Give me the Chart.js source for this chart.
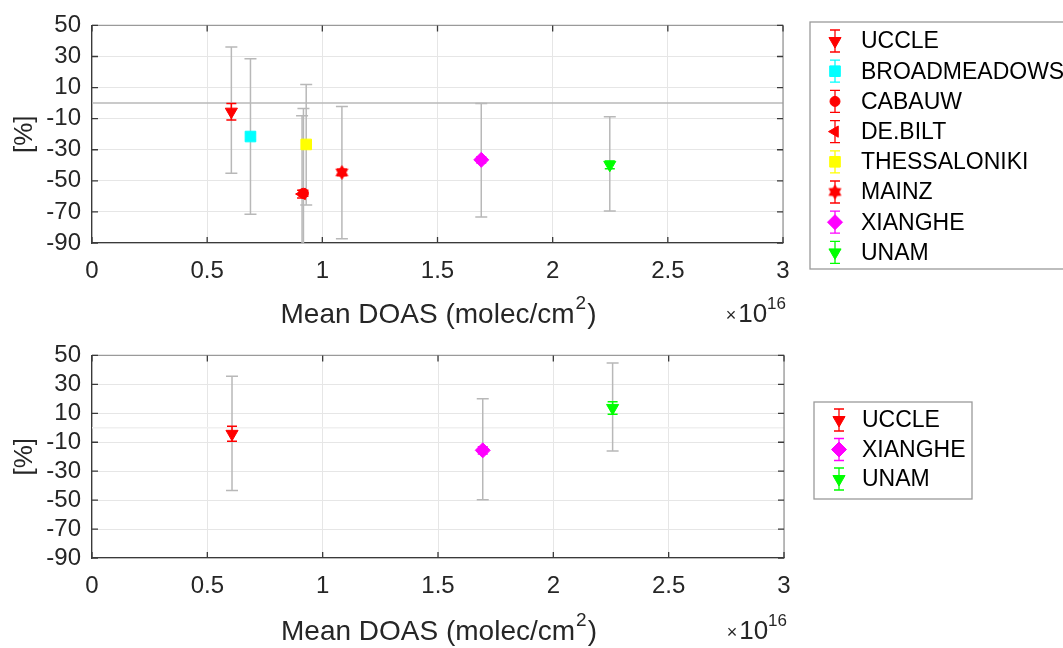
<!DOCTYPE html>
<html>
<head>
<meta charset="utf-8">
<script src="https://cdn.jsdelivr.net/npm/chart.js@4.4.0/dist/chart.umd.min.js"></script>
<style>
  html, body { margin: 0; padding: 0; background: #fff; }
  #wrap { position: relative; width: 1063px; height: 648px; overflow: hidden; background: #fff; }
  canvas { position: absolute; left: 0; }
</style>
</head>
<body>
<div id="wrap">
  <canvas id="topChart" width="1063" height="330" style="top:0"></canvas>
  <canvas id="bottomChart" width="1063" height="318" style="top:330px"></canvas>
</div>
<script>
// x: mean DOAS column in units of 1e16 molec/cm2, y: relative difference in %
const stationsTop = ['UCCLE', 'BROADMEADOWS', 'CABAUW', 'DE.BILT', 'THESSALONIKI', 'MAINZ', 'XIANGHE', 'UNAM'];
const meanTop     = [0.605, 0.688, 0.918, 0.912, 0.930, 1.085, 1.690, 2.248];
const biasTop     = [-5.5, -21.5, -58.0, -58.5, -26.6, -44.6, -36.5, -39.7];
const sdLowTop    = [-45.2, -71.5, -100, -110, -65.6, -87.3, -73.2, -69.4];
const sdHighTop   = [36.1, 28.5, -3.5, -8.1, 11.9, -2.2, -0.3, -8.7];
const ciTop       = [5.3, 2, 2, 2.5, 2, 2, 2, 2.5];

const stationsBottom = ['UCCLE', 'XIANGHE', 'UNAM'];
const meanBottom     = [0.607, 1.694, 2.257];
const biasBottom     = [-4.2, -15.6, 13.7];
const sdLowBottom    = [-43.3, -49.8, -16.0];
const sdHighBottom   = [35.6, 20.1, 44.8];
const ciBottom       = [5.2, 2.5, 4.3];

const xTicks = [0, 0.5, 1, 1.5, 2, 2.5, 3];
const yTicks = [-90, -70, -50, -30, -10, 10, 30, 50];
const refValue = 0;

const FONT = '"Liberation Sans", Arial, Helvetica, sans-serif';
const TEXT = '#262626';

// six-pointed star used for MAINZ
function makeHexagram(r, color) {
  const c = document.createElement('canvas');
  const s = Math.ceil(r * 2) + 2;
  c.width = c.height = s;
  const g = c.getContext('2d');
  g.fillStyle = color;
  g.beginPath();
  for (let i = 0; i < 12; i++) {
    const a = -Math.PI / 2 + i * Math.PI / 6;
    const rr = i % 2 ? r * 0.6 : r;
    g.lineTo(s / 2 + rr * Math.cos(a), s / 2 + rr * Math.sin(a));
  }
  g.closePath();
  g.fill();
  return c;
}

const markerStyles = {
  'UCCLE':        { color: '#ff0000', pointStyle: 'triangle', rotation: 180, radius: 7 },
  'BROADMEADOWS': { color: '#00ffff', pointStyle: 'rect', radius: 7.5 },
  'CABAUW':       { color: '#ff0000', pointStyle: 'circle', radius: 5 },
  'DE.BILT':      { color: '#ff0000', pointStyle: 'triangle', rotation: 270, radius: 6.5 },
  'THESSALONIKI': { color: '#ffff00', pointStyle: 'rect', radius: 7.5 },
  'MAINZ':        { color: '#ff0000', pointStyle: makeHexagram(7.5, '#ff0000'), radius: 7 },
  'XIANGHE':      { color: '#ff00ff', pointStyle: 'rectRot', radius: 7.5 },
  'UNAM':         { color: '#00ff00', pointStyle: 'triangle', rotation: 180, radius: 7 }
};

function buildDatasets(names, xs, ys, lo, hi, ci) {
  return names.map((name, i) => {
    const m = markerStyles[name];
    return {
      label: name,
      data: [{ x: xs[i], y: ys[i] }],
      errLow: [lo[i]],
      errHigh: [hi[i]],
      ci: [ci[i]],
      pointStyle: m.pointStyle,
      rotation: m.rotation || 0,
      pointRadius: m.radius,
      pointHoverRadius: m.radius,
      backgroundColor: m.color,
      borderColor: m.color,
      borderWidth: 1
    };
  });
}

function vbar(ctx, px, y1, y2, cap, color, lw) {
  ctx.strokeStyle = color;
  ctx.lineWidth = lw;
  ctx.beginPath();
  ctx.moveTo(px, y1); ctx.lineTo(px, y2);
  ctx.moveTo(px - cap, y1); ctx.lineTo(px + cap, y1);
  ctx.moveTo(px - cap, y2); ctx.lineTo(px + cap, y2);
  ctx.stroke();
}

// grey std bars + coloured short bars, drawn under the markers
const errorBars = {
  id: 'errorBars',
  beforeDatasetsDraw(chart, args, opts) {
    const { ctx, chartArea: a, scales: { x, y } } = chart;
    ctx.save();
    ctx.beginPath();
    ctx.rect(a.left, a.top, a.width, a.height);
    ctx.clip();
    if (opts.refColor) {
      const y0 = y.getPixelForValue(refValue);
      ctx.strokeStyle = opts.refColor;
      ctx.lineWidth = 1.5;
      ctx.beginPath(); ctx.moveTo(a.left, y0); ctx.lineTo(a.right, y0); ctx.stroke();
    }
    chart.data.datasets.forEach(ds => {
      ds.data.forEach((p, i) => {
        const px = x.getPixelForValue(p.x);
        vbar(ctx, px, y.getPixelForValue(ds.errLow[i]), y.getPixelForValue(ds.errHigh[i]), 6, '#b8b8b8', 1.5);
        vbar(ctx, px, y.getPixelForValue(p.y - ds.ci[i]), y.getPixelForValue(p.y + ds.ci[i]), 5, ds.borderColor, 1.5);
      });
    });
    ctx.restore();
  }
};

// box edges, inward ticks, axis titles and the boxed legend
const frame = {
  id: 'frame',
  afterDraw(chart, args, opts) {
    const { ctx, chartArea: a, scales: { x, y } } = chart;
    ctx.save();
    // top and right edges
    ctx.strokeStyle = '#9a9a9a';
    ctx.lineWidth = 1.3;
    ctx.beginPath();
    ctx.moveTo(a.left, a.top); ctx.lineTo(a.right, a.top); ctx.lineTo(a.right, a.bottom);
    ctx.stroke();
    // inward tick marks on all four sides
    ctx.strokeStyle = '#3a3a3a';
    ctx.lineWidth = 1.3;
    ctx.beginPath();
    y.ticks.forEach(t => {
      const py = y.getPixelForValue(t.value);
      ctx.moveTo(a.left, py); ctx.lineTo(a.left + 6, py);
      ctx.moveTo(a.right - 6, py); ctx.lineTo(a.right, py);
    });
    x.ticks.forEach(t => {
      const px = x.getPixelForValue(t.value);
      ctx.moveTo(px, a.bottom); ctx.lineTo(px, a.bottom - 6);
      ctx.moveTo(px, a.top); ctx.lineTo(px, a.top + 6);
    });
    ctx.stroke();

    // x title with superscript
    ctx.fillStyle = TEXT;
    ctx.textBaseline = 'middle';
    ctx.textAlign = 'left';
    const main = 'Mean DOAS (molec/cm', sup = '2', tail = ')';
    ctx.font = '28px ' + FONT;
    const wMain = ctx.measureText(main).width, wTail = ctx.measureText(tail).width;
    ctx.font = '19px ' + FONT;
    const wSup = ctx.measureText(sup).width;
    let tx = (a.left + a.right) / 2 - (wMain + wSup + wTail) / 2;
    const ty = opts.titleY;
    ctx.font = '28px ' + FONT;
    ctx.fillText(main, tx, ty);
    ctx.font = '19px ' + FONT;
    ctx.fillText(sup, tx + wMain + 1, ty - 11);
    ctx.font = '28px ' + FONT;
    ctx.fillText(tail, tx + wMain + wSup + 2, ty);

    // exponent marker
    ctx.textAlign = 'right';
    ctx.font = '17px ' + FONT;
    const w16 = ctx.measureText('16').width;
    ctx.fillText('16', a.right + 3, ty - 11);
    ctx.font = '26px ' + FONT;
    const w10 = ctx.measureText('10').width;
    ctx.fillText('10', a.right + 3 - w16, ty);
    ctx.font = '18px ' + FONT;
    ctx.fillText('\u00d7', a.right + 1 - w16 - w10, ty + 1);

    // y title
    ctx.save();
    ctx.translate(25, (a.top + a.bottom) / 2);
    ctx.rotate(-Math.PI / 2);
    ctx.textAlign = 'center';
    ctx.font = '26px ' + FONT;
    ctx.fillText('[%]', 0, 0);
    ctx.restore();

    // legend
    const L = opts.legend;
    ctx.fillStyle = '#fff';
    ctx.fillRect(L.x, L.y, L.w, L.h);
    ctx.strokeStyle = '#9a9a9a';
    ctx.lineWidth = 1.3;
    ctx.strokeRect(L.x, L.y, L.w, L.h);
    chart.data.datasets.forEach((ds, i) => {
      const ry = L.row0 + i * L.step;
      vbar(ctx, L.markX, ry - 11, ry + 11, 5, ds.borderColor, 1.3);
      ctx.fillStyle = ds.backgroundColor;
      ctx.strokeStyle = ds.borderColor;
      ctx.lineWidth = 1;
      Chart.helpers.drawPoint(ctx, {
        pointStyle: ds.pointStyle, rotation: ds.rotation, radius: ds.pointRadius, borderWidth: 1
      }, L.markX, ry);
      ctx.fillStyle = '#000';
      ctx.textAlign = 'left';
      ctx.textBaseline = 'middle';
      ctx.font = '23px ' + FONT;
      ctx.fillText(ds.label, L.textX, ry + 1);
    });
    ctx.restore();
  }
};

function makeOptions(cfg) {
  return {
    responsive: false,
    animation: false,
    events: [],
    layout: { padding: { left: 0, top: cfg.top, right: cfg.right, bottom: 0 } },
    plugins: {
      legend: { display: false },
      tooltip: { enabled: false },
      errorBars: { refColor: cfg.refColor },
      frame: { titleY: cfg.titleY, legend: cfg.legend }
    },
    scales: {
      x: {
        type: 'linear',
        min: 0, max: 3,
        afterBuildTicks: s => { s.ticks = xTicks.map(v => ({ value: v })); },
        afterFit: s => { s.height = cfg.xHeight; },
        grid: { color: '#e6e6e6', lineWidth: 1, drawTicks: false },
        border: { color: '#3a3a3a', width: 1.3 },
        ticks: { padding: 14, autoSkip: false, color: TEXT, font: { family: FONT, size: 24 }, callback: v => String(v), maxRotation: 0 }
      },
      y: {
        type: 'linear',
        min: -90, max: 50,
        afterBuildTicks: s => { s.ticks = yTicks.map(v => ({ value: v })); },
        afterFit: s => { s.width = 92; },
        grid: { color: '#e6e6e6', lineWidth: 1, drawTicks: false },
        border: { color: '#3a3a3a', width: 1.3 },
        ticks: { padding: 11, autoSkip: false, color: TEXT, font: { family: FONT, size: 24 }, callback: v => String(v) }
      }
    }
  };
}

new Chart(document.getElementById('topChart'), {
  type: 'scatter',
  data: { datasets: buildDatasets(stationsTop, meanTop, biasTop, sdLowTop, sdHighTop, ciTop) },
  options: makeOptions({
    top: 22, right: 280, xHeight: 87, refColor: '#b8b8b8', titleY: 315,
    legend: { x: 810, y: 22, w: 270, h: 247, row0: 41, step: 30.2, markX: 835, textX: 861 }
  }),
  plugins: [errorBars, frame]
});

new Chart(document.getElementById('bottomChart'), {
  type: 'scatter',
  data: { datasets: buildDatasets(stationsBottom, meanBottom, biasBottom, sdLowBottom, sdHighBottom, ciBottom) },
  options: makeOptions({
    top: 12, right: 279, xHeight: 90, refColor: '#f0f0f0', titleY: 302,
    legend: { x: 814, y: 72, w: 158, h: 97, row0: 90, step: 29.5, markX: 839, textX: 862 }
  }),
  plugins: [errorBars, frame]
});
</script>
</body>
</html>
